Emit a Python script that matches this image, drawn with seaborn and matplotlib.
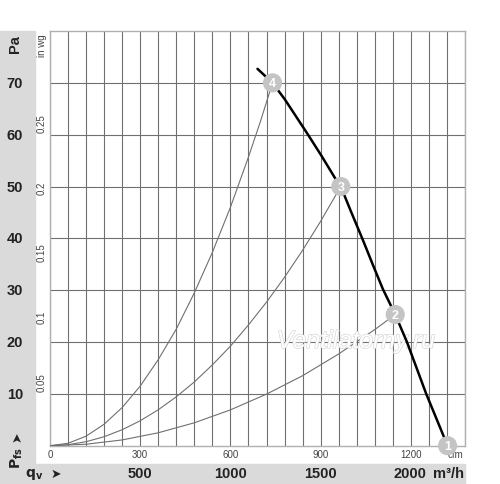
import numpy as np
import pandas as pd
import matplotlib.pyplot as plt
import matplotlib.transforms as mtransforms
import matplotlib.patheffects as pe
import seaborn as sns

# fan curve (cfm, Pa)
fan_cfm = [690, 740, 781, 858, 903, 947, 967, 1000, 1041, 1075, 1107, 1148, 1187, 1251, 1322]
fan_pa = [72.7, 70, 66.8, 60, 55.9, 51.7, 50, 45.3, 39.6, 34.7, 30.2, 25.3, 20, 10, 0]

# system curves through the operating points
sys4_cfm = [0, 60, 120, 180, 240, 300, 360, 420, 480, 540, 600, 660, 700, 740]
sys4_pa = [0, 0.46, 1.84, 4.14, 7.36, 11.5, 16.6, 22.5, 29.5, 37.3, 46.0, 55.7, 62.6, 70]
sys3_cfm = [0, 60, 120, 180, 240, 300, 360, 420, 480, 540, 600, 660, 720, 780, 840, 900, 967]
sys3_pa = [0, 0.19, 0.77, 1.73, 3.08, 4.81, 6.93, 9.43, 12.3, 15.6, 19.2, 23.3, 27.7, 32.5, 37.7, 43.3, 50]
sys2_cfm = [0, 120, 240, 360, 480, 600, 720, 840, 960, 1080, 1148]
sys2_pa = [0, 0.28, 1.11, 2.49, 4.42, 6.91, 9.95, 13.5, 17.7, 22.4, 25.3]

# operating points
pt_labels = ['1', '2', '3', '4']
pt_cfm = [1322, 1148, 967, 740]
pt_pa = [0, 25.3, 50, 70]

pa_ticks = [10, 20, 30, 40, 50, 60, 70]
inwg_ticks = [0.05, 0.1, 0.15, 0.2, 0.25]
cfm_ticks = [0, 300, 600, 900, 1200]
m3h_ticks = [500, 1000, 1500, 2000]

PA_PER_INWG = 249.089
M3H_PER_CFM = 1.67

sns.set_style('white')
plt.rcParams['font.family'] = ['Liberation Sans', 'DejaVu Sans']

fig = plt.figure(figsize=(5, 4.85), dpi=100)
band = '#dadada'
fig.patches.append(plt.Rectangle((0, 0), 0.07, 0.934, transform=fig.transFigure, color=band, zorder=-5))
fig.patches.append(plt.Rectangle((0, 0), 0.93, 0.041, transform=fig.transFigure, color=band, zorder=-5))

ax = fig.add_axes([0.1, 0.079, 0.83, 0.855])
ax.set_xlim(0, 1380)
ax.set_ylim(0, 80)

ax.set_xticks(np.arange(0, 1381, 60))
ax.set_yticks(pa_ticks)
ax.set_xticklabels([])
ax.set_yticklabels([])
ax.tick_params(length=0)
ax.grid(True, color='#707070', lw=0.8)
for s in ax.spines.values():
    s.set_color('#b0b0b0')
    s.set_linewidth(1)

# system curves
for cx, cy in [(sys4_cfm, sys4_pa), (sys3_cfm, sys3_pa), (sys2_cfm, sys2_pa)]:
    sns.lineplot(x=cx, y=cy, ax=ax, color='#707070', lw=0.8, zorder=3)

# fan curve
sns.lineplot(x=fan_cfm, y=fan_pa, ax=ax, color='black', lw=1.8, zorder=4)

# operating points
ax.scatter(pt_cfm, pt_pa, s=190, color='#c4c4c4', edgecolor='none', zorder=5, clip_on=False)
for lab, cx, cy in zip(pt_labels, pt_cfm, pt_pa):
    ax.text(cx, cy, lab, ha='center', va='center', color='white', fontsize=9,
            fontweight='bold', zorder=6, clip_on=False)

# watermark
ax.text(1017, 20.2, 'Ventilatorny.ru', ha='center', va='center', fontsize=18,
        style='italic', color='white', zorder=3.5,
        path_effects=[pe.withStroke(linewidth=1.0, foreground='#d8d8d8')])

# left band: Pa
tr_y = mtransforms.blended_transform_factory(fig.transFigure, ax.transData)
for v in pa_ticks:
    fig.text(0.03, 0, str(v), transform=tr_y, ha='center', va='center',
             fontsize=10.5, fontweight='bold', color='#222222').set_y(v)
fig.text(0.03, 0.91, 'Pa', rotation=90, ha='center',
         va='center', fontsize=10.5, fontweight='bold', color='#222222')

# in wg scale
for v in inwg_ticks:
    fig.text(0.084, 0, str(v), transform=tr_y, rotation=90,
             ha='center', va='center', fontsize=7, color='#444444').set_y(v * PA_PER_INWG)
fig.text(0.084, 0.905, 'in wg', rotation=90,
         ha='center', va='center', fontsize=7, color='#444444')

# Pfs arrow label
fig.text(0.034, 0.1, '➤', rotation=90, ha='center',
         va='center', fontsize=9, color='#222222', family=['DejaVu Sans'])
fig.text(0.034, 0.055, r'$\mathbf{P_{fs}}$', rotation=90,
         ha='center', va='center', fontsize=10, color='#222222')

# cfm scale
tr_x = mtransforms.blended_transform_factory(ax.transData, fig.transFigure)
for v in cfm_ticks:
    fig.text(0, 0.062, str(v), transform=tr_x, ha='center', va='center',
             fontsize=7, color='#444444').set_x(v)
fig.text(0.91, 0.062, 'cfm', ha='center', va='center',
         fontsize=7, color='#444444', zorder=-1)

# m3/h scale
for v in m3h_ticks:
    fig.text(0, 0.022, str(v), transform=tr_x, ha='center', va='center',
             fontsize=10.5, fontweight='bold', color='#222222').set_x(v / M3H_PER_CFM)
fig.text(0.898, 0.022, 'm³/h', ha='center', va='center',
         fontsize=10.5, fontweight='bold', color='#222222')
fig.text(0.068, 0.022, r'$\mathbf{q_v}$', ha='center',
         va='center', fontsize=10, color='#222222')
fig.text(0.112, 0.022, '➤', ha='center', va='center',
         fontsize=9, color='#222222', family=['DejaVu Sans'])

ax.set_xlabel('')
ax.set_ylabel('')
fig.savefig('out.png', dpi=100)
